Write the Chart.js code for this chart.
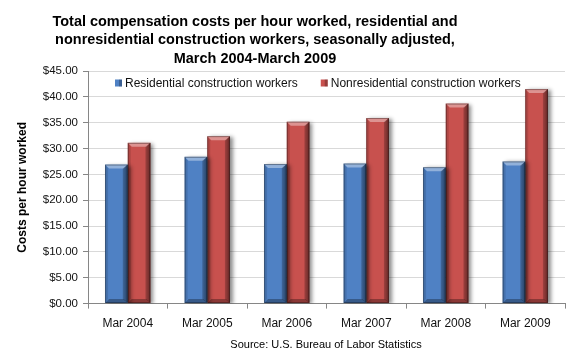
<!DOCTYPE html>
<html>
<head>
<meta charset="utf-8">
<script src="https://cdn.jsdelivr.net/npm/chart.js@4/dist/chart.umd.min.js"></script>
<style>
  html, body { margin: 0; padding: 0; background: #fff; }
  #wrap { width: 580px; height: 360px; position: relative; }
</style>
</head>
<body>
<div id="wrap"><canvas id="c" width="580" height="360"></canvas></div>
<script>
const categories = ['Mar 2004', 'Mar 2005', 'Mar 2006', 'Mar 2007', 'Mar 2008', 'Mar 2009'];
const residential = [26.9, 28.4, 27.0, 27.1, 26.4, 27.5];
const nonresidential = [31.1, 32.4, 35.2, 35.9, 38.7, 41.5];
const seriesNames = ['Residential construction workers', 'Nonresidential construction workers'];
const titleLines = [
  'Total compensation costs per hour worked, residential and',
  'nonresidential construction workers, seasonally adjusted,',
  'March 2004-March 2009'
];
const yAxisTitle = 'Costs per hour worked';
const sourceText = 'Source: U.S. Bureau of Labor Statistics';

const FONT = '"Liberation Sans", Arial, sans-serif';

const decor = {
  id: 'decor',
  beforeDatasetsDraw(chart) {
    const ctx = chart.ctx;
    ctx.save();
    ctx.shadowColor = 'rgba(0,0,0,0.45)';
    ctx.shadowBlur = 4;
    ctx.shadowOffsetX = 3;
    ctx.shadowOffsetY = 1;
  },
  afterDatasetsDraw(chart) {
    const ctx = chart.ctx;
    ctx.restore();
    chart.data.datasets.forEach((ds, di) => {
      const meta = chart.getDatasetMeta(di);
      meta.data.forEach(el => {
        const w = el.width;
        const x0 = el.x - w / 2, x1 = el.x + w / 2;
        const y0 = el.y, y1 = el.base;
        const b = 4;
        const poly = (pts, fill) => {
          ctx.beginPath();
          ctx.moveTo(pts[0][0], pts[0][1]);
          for (let i = 1; i < pts.length; i++) ctx.lineTo(pts[i][0], pts[i][1]);
          ctx.closePath();
          ctx.fillStyle = fill;
          ctx.fill();
        };
        ctx.save();
        poly([[x0, y0], [x1, y0], [x1 - b, y0 + b], [x0 + b, y0 + b]], 'rgba(255,255,255,0.38)');
        poly([[x0, y0], [x0 + b - 1, y0 + b], [x0 + b - 1, y1 - b], [x0, y1]], 'rgba(0,0,0,0.12)');
        const g = ctx.createLinearGradient(x1 - b - 1, 0, x1, 0);
        g.addColorStop(0, 'rgba(0,0,0,0.2)');
        g.addColorStop(1, 'rgba(0,0,0,0.5)');
        poly([[x1, y0], [x1, y1], [x1 - b - 1, y1 - b], [x1 - b - 1, y0 + b]], g);
        poly([[x0, y1], [x1, y1], [x1 - b, y1 - b], [x0 + b, y1 - b]], 'rgba(0,0,0,0.3)');
        ctx.strokeStyle = 'rgba(0,0,0,0.35)';
        ctx.lineWidth = 1;
        ctx.strokeRect(x0 + 0.5, y0 + 0.5, w - 1, y1 - y0 - 1);
        ctx.restore();
      });
    });
  },
  afterDraw(chart) {
    const ctx = chart.ctx;
    ctx.save();
    ctx.fillStyle = '#000';
    ctx.textAlign = 'center';
    ctx.textBaseline = 'middle';
    ctx.font = 'bold 15px ' + FONT;
    const ys = [22, 40, 59];
    titleLines.forEach((t, i) => {
      const m = ctx.measureText(t).width;
      ctx.fillText(t, 255, ys[i], m * 0.965);
    });
    ctx.font = '11px ' + FONT;
    ctx.fillText(sourceText, 326, 345);

    // legend inside plot area
    ctx.font = '12px ' + FONT;
    ctx.textAlign = 'left';
    let x = 115;
    const ly = 83;
    chart.data.datasets.forEach(ds => {
      ctx.fillStyle = ds.backgroundColor;
      ctx.fillRect(x, ly - 3.5, 7, 7);
      ctx.fillStyle = 'rgba(0,0,0,0.25)';
      ctx.fillRect(x + 4, ly - 3.5, 3, 7);
      ctx.fillStyle = '#111';
      ctx.fillText(ds.label, x + 10, ly + 0.5);
      x += 10 + ctx.measureText(ds.label).width + 23;
    });
    ctx.restore();
  }
};

new Chart(document.getElementById('c'), {
  type: 'bar',
  data: {
    labels: categories,
    datasets: [
      { label: seriesNames[0], data: residential, backgroundColor: '#4F81C4', borderWidth: 0 },
      { label: seriesNames[1], data: nonresidential, backgroundColor: '#C8514E', borderWidth: 0 }
    ]
  },
  options: {
    responsive: false,
    animation: false,
    devicePixelRatio: 1,
    layout: { padding: { top: 71, left: 6, right: 15, bottom: 21 } },
    datasets: { bar: { categoryPercentage: 0.57, barPercentage: 1.0 } },
    plugins: {
      title: { display: false },
      tooltip: { enabled: false },
      legend: { display: false }
    },
    scales: {
      x: {
        grid: { drawOnChartArea: false, tickLength: 5, tickColor: '#868686', offset: true },
        border: { color: '#868686' },
        ticks: { color: '#111', padding: 8, font: { family: FONT, size: 12 } }
      },
      y: {
        min: 0,
        max: 45,
        grid: { color: '#D9D9D9', tickLength: 5, tickColor: '#868686' },
        border: { color: '#868686' },
        ticks: {
          stepSize: 5,
          color: '#111',
          padding: 5,
          font: { family: FONT, size: 11.5 },
          callback: v => '$' + Number(v).toFixed(2)
        },
        title: {
          display: true,
          text: yAxisTitle,
          color: '#000',
          font: { family: FONT, size: 12, weight: 'bold' },
          padding: { top: 9, bottom: 2 }
        },
        afterFit(s) { s.width = 82; }
      }
    }
  },
  plugins: [decor]
});
</script>
</body>
</html>
